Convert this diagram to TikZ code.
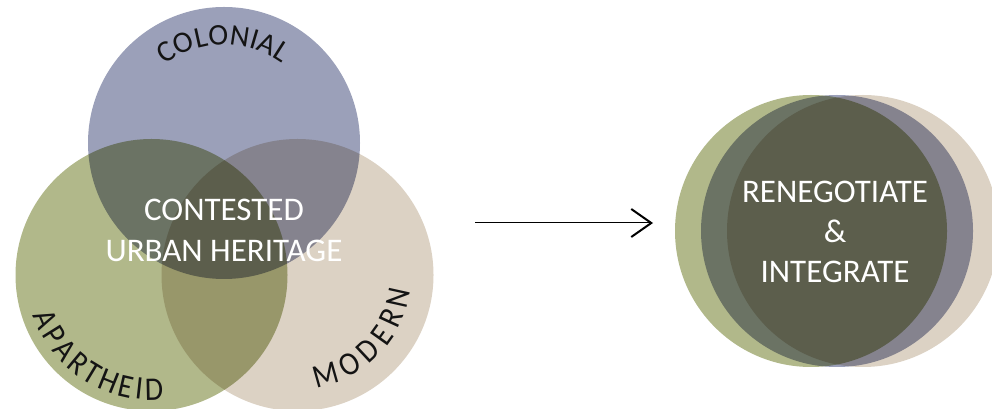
\documentclass[tikz,border=0pt]{standalone}
\usepackage{fontspec}
\setmainfont{Carlito}
\usetikzlibrary{arrows.meta}
\definecolor{cblue}{HTML}{9BA0B9}
\definecolor{cgreen}{HTML}{B1B88A}
\definecolor{cbeige}{HTML}{DCD2C4}
\definecolor{ctext}{HTML}{141414}
\begin{document}
\begin{tikzpicture}[x=1pt,y=1pt,
  circ/.style={circle, minimum size=272pt, inner sep=0pt},
  wtext/.style={text=white, font=\fontsize{33}{38}\selectfont, anchor=base, inner sep=0pt},
  lbl/.style={text=ctext, font=\fontsize{#1}{#1}\selectfont, anchor=base, inner sep=0pt}]
\useasboundingbox (0,0) rectangle (992,409);
\begin{scope}[blend group=multiply]
  \node[circ, fill=cblue]  (colonial)  at (224,266) {};
  \node[circ, fill=cgreen] (apartheid) at (151.5,134) {};
  \node[circ, fill=cbeige] (modern)    at (297.5,134) {};
\end{scope}
\begin{scope}[blend group=multiply]
  \node[circ, fill=cgreen] (rgreen) at (811,178) {};
  \node[circ, fill=cblue]  (rblue)  at (837,178) {};
  \node[circ, fill=cbeige] (rbeige) at (863,178) {};
\end{scope}
% COLONIAL: clockwise along top, tops outward
\foreach \l/\p/\i in {C/0/0, O/0.5975/1, L/1.1385/2, O/1.6795/3, N/2.3335/4, I/2.7825/5, A/3.198/6, L/3.6975/7} {
  \pgfmathsetmacro\ang{122.5 + (57.5-122.5)*(\p*30 + \i*0.2)/(3.6975*30 + 7*0.2)}
  \node[lbl=30, rotate=\ang-90] (col\i) at ([shift={(\ang:98.5)}]colonial.center) {\l};
}
% APARTHEID: counter-clockwise along lower left, tops inward
\foreach \l/\p/\i in {A/0/0, P/0.548/1, A/1.096/2, R/1.657/3, T/2.172/4, H/2.727/5, E/3.2825/6, I/3.6525/7, D/4.086/8} {
  \pgfmathsetmacro\ang{202.9 + (271.3-202.9)*(\p*29.7 + \i*3.5)/(4.086*29.7 + 8*3.5)}
  \node[lbl=33, rotate=\ang+90, xscale=0.9] (apa\i) at ([shift={(\ang:125.1)}]apartheid.center) {\l};
}
% MODERN: counter-clockwise along lower right, tops inward
\foreach \l/\p/\i in {M/0/0, O/0.7585/1, D/1.397/2, E/1.9485/3, R/2.464/4, N/3.0585/5} {
  \pgfmathsetmacro\ang{285.8 + (347.5-285.8)*(\p*29.7 + \i*6.4)/(3.0585*29.7 + 5*6.4)}
  \node[lbl=33, rotate=\ang+90, xscale=0.9] (mod\i) at ([shift={(\ang:114.1)}]modern.center) {\l};
}
\node[wtext] (ct1) at (224,188) {CONTESTED};
\node[wtext] (ct2) at (224,147) {URBAN HERITAGE};
\node[wtext] (rt1) at (835,206) {RENEGOTIATE};
\node[wtext] (rt2) at (835,166) {\&};
\node[wtext] (rt3) at (835,126) {INTEGRATE};
\coordinate (a1) at (475,186);
\coordinate (a2) at (653,186);
\draw[line width=1pt, -{Straight Barb[length=20pt,width=28pt,line width=2pt]}] (a1) -- (a2);
\end{tikzpicture}
\end{document}
